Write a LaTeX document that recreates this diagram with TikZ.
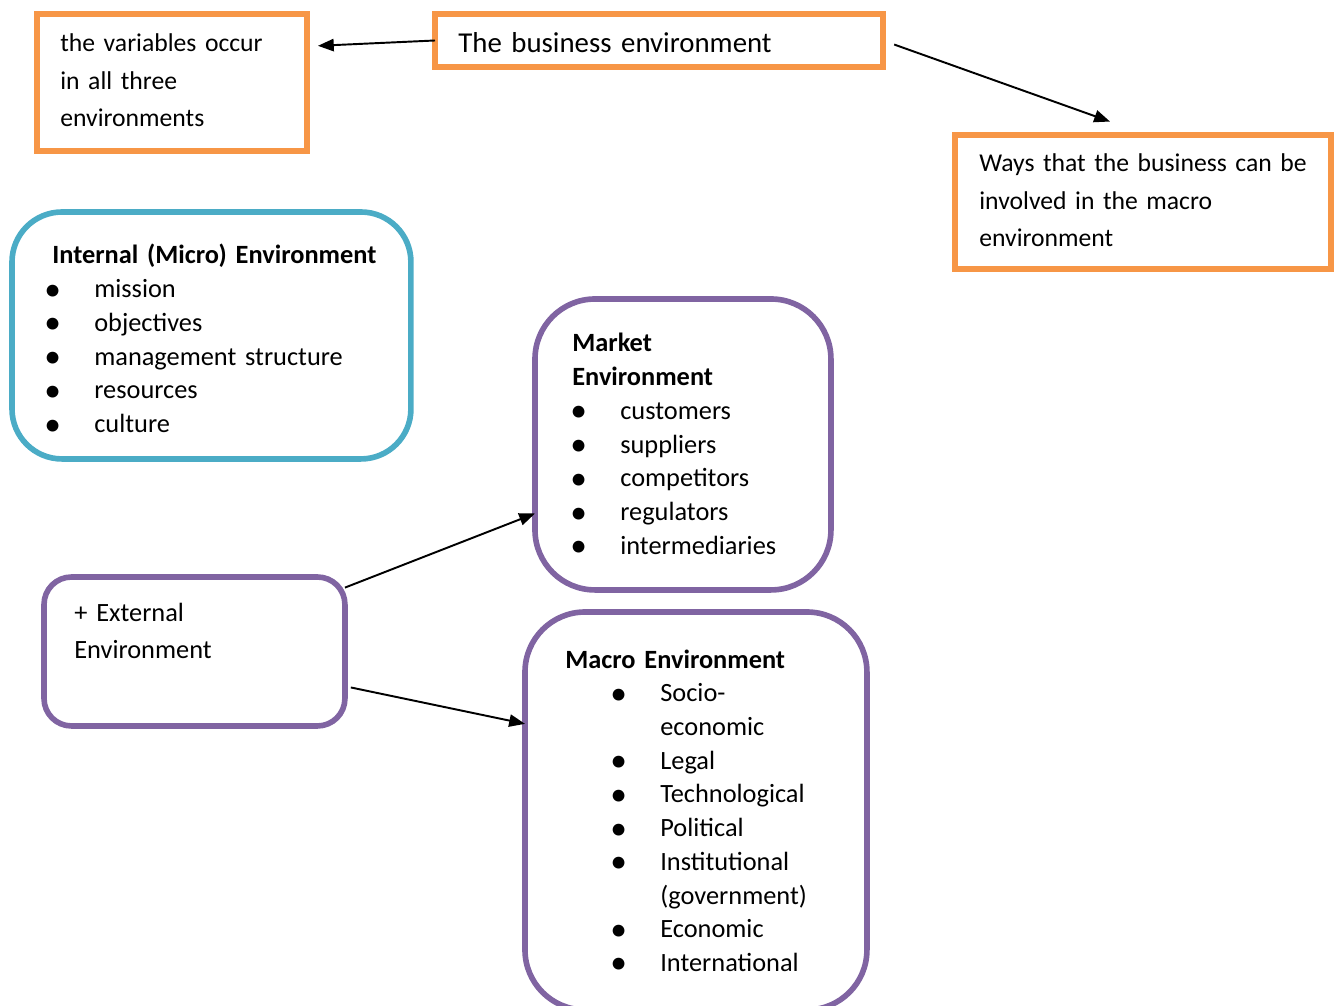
\documentclass[tikz,border=0pt]{standalone}
\usepackage{fontspec}
\setmainfont{Carlito}
\usetikzlibrary{arrows.meta}

\definecolor{boxorange}{HTML}{F79646}
\definecolor{boxblue}{HTML}{4BACC6}
\definecolor{boxpurple}{HTML}{8064A2}

% bullet line, optional indent before the bullet
\newcommand{\itm}[2][0cm]{\hspace*{#1}\makebox[0.84cm][l]{\hspace*{-0.16cm}{\fontsize{19}{0}\selectfont\raisebox{-0.07em}{\textbullet}}}#2}

\begin{document}
\begin{tikzpicture}[x=0.02cm, y=-0.02cm,
  frame/.style={line width=3.2pt, inner sep=0pt, outer sep=0pt, anchor=north west},
  sqbox/.style={frame, draw=boxorange},
  blbox/.style={frame, draw=boxblue, rounded corners=1cm},
  pubox/.style={frame, draw=boxpurple, rounded corners=#1},
  txt/.style={anchor=base west, inner sep=0pt, text width=9cm, align=left,
    font={\fontsize{15}{19.2}\selectfont}},
  wide/.style={txt, font={\fontsize{14.6}{21.3}\selectfont}},
  arr/.style={-{Triangle[length=9pt,width=7pt]}, line width=1.1pt}]

\useasboundingbox (0,0) rectangle (1338,1006);

% orange boxes
\node [sqbox, minimum width=5.4cm, minimum height=2.74cm] (tl) at (37,14) {};
\node [sqbox, minimum width=8.96cm, minimum height=1.06cm] (bus) at (435,14) {};
\node [sqbox, minimum width=7.52cm, minimum height=2.68cm] (ways) at (955,135) {};

% rounded boxes
\node [blbox, minimum width=7.98cm, minimum height=4.94cm] (int) at (12,212) {};
\node [pubox=1.2cm, minimum width=5.92cm, minimum height=5.82cm] (mkt) at (535,299) {};
\node [pubox=0.55cm, minimum width=6.02cm, minimum height=2.98cm] (ext) at (44,577) {};
\node [pubox=1.2cm, minimum width=6.84cm, minimum height=7.96cm] (mac) at (525,612) {};

% texts
\node [wide] (tlT) at (60,52) {the variables occur\\in all three\\environments};
\node [txt, font={\fontsize{16.4}{20}\selectfont}] (busT) at (458,53) {The business environment};
\node [wide] (waysT) at (979,172) {Ways that the business can be\\involved in the macro\\environment};

\node [txt] (intT) at (52,264) {\textbf{Internal (Micro) Environment}\\
  \itm{mission}\\
  \itm{objectives}\\
  \itm{management structure}\\
  \itm{resources}\\
  \itm{culture}};

\node [txt] (mktT) at (572,352) {\textbf{Market}\\
  \textbf{Environment}\\
  \itm[0.12cm]{customers}\\
  \itm[0.12cm]{suppliers}\\
  \itm[0.12cm]{competitors}\\
  \itm[0.12cm]{regulators}\\
  \itm[0.12cm]{intermediaries}};

\node [txt, font={\fontsize{15}{21.5}\selectfont}] (extT) at (74,621) {+ External\\Environment};

\node [txt] (macT) at (565,668) {\textbf{Macro Environment}\\
  \itm[1.06cm]{Socio-}\\
  \hspace*{1.9cm}economic\\
  \itm[1.06cm]{Legal}\\
  \itm[1.06cm]{Technological}\\
  \itm[1.06cm]{Political}\\
  \itm[1.06cm]{Institutional}\\
  \hspace*{1.9cm}(government)\\
  \itm[1.06cm]{Economic}\\
  \itm[1.06cm]{International}};

% arrows
\draw [arr, shorten >=0.22cm] (bus.west) -- (tl.15);
\draw [arr, shorten <=0.24cm, shorten >=0.8cm] (bus.east) -- (ways.86);
\draw [arr] (ext.23) -- (mkt.205);
\draw [arr, shorten <=0.12cm] (ext.-13) -- (mac.153);

\end{tikzpicture}
\end{document}
